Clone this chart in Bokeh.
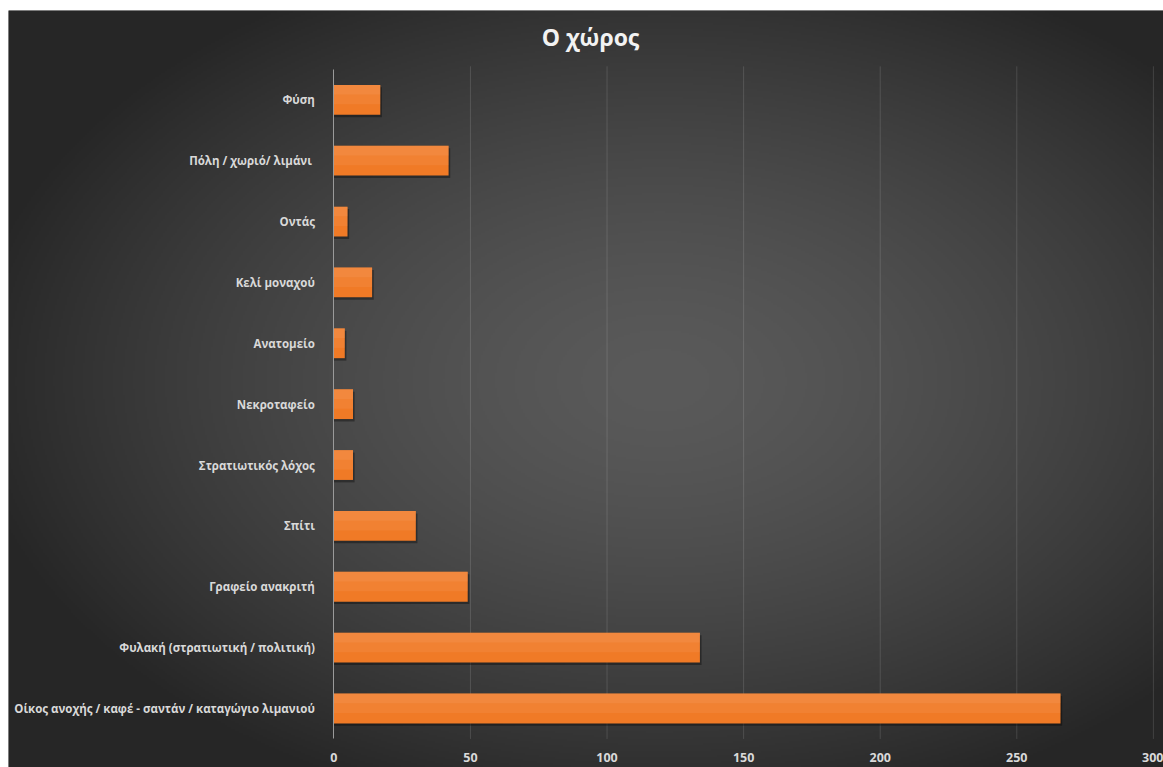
import numpy as np
from bokeh.plotting import figure
from bokeh.models import Range1d, FixedTicker, Label, Spacer
from bokeh.layouts import column, row
from bokeh.embed import file_html
from bokeh.resources import INLINE

# ---- data ----
title_text = "Ο χώρος"
categories = [
    "Φύση",
    "Πόλη / χωριό/ λιμάνι ",
    "Οντάς",
    "Κελί μοναχού",
    "Ανατομείο",
    "Νεκροταφείο",
    "Στρατιωτικός λόχος",
    "Σπίτι",
    "Γραφείο ανακριτή",
    "Φυλακή (στρατιωτική / πολιτική)",
    "Οίκος ανοχής / καφέ - σαντάν / καταγώγιο λιμανιού",
]
values = [17, 42, 5, 14, 4, 7, 7, 30, 49, 134, 266]
x_ticks = [0, 50, 100, 150, 200, 250, 300]

n = len(categories)
ypos = [n - 1 - k for k in range(n)]

W, H = 1155, 757
FONT = "Open Sans"
LABEL_COLOR = "#d9d9d9"

p = figure(
    width=W, height=H,
    x_range=Range1d(-119.1, 303.7),
    y_range=Range1d(-0.969, 11.467),
    output_backend="svg", toolbar_location=None,
    min_border=0, min_border_left=0, min_border_right=0,
    min_border_top=0, min_border_bottom=0,
)
p.outline_line_color = None
p.background_fill_color = "#383838"
p.border_fill_color = "#383838"
p.xgrid.visible = False
p.ygrid.visible = False

# radial background gradient (decoration)
h, w = H // 2 + 1, W // 2 + 1
jj = (np.arange(w) + 0.5) * W / w + 8
ii = (np.arange(h) + 0.5) * H / h + 10
PX, PY = np.meshgrid(jj, ii)
d = np.sqrt(((PX - 660) / 700.0) ** 2 + ((PY - 380) / 450.0) ** 2)
d = np.clip(d, 0, 1)
g = (38 + 52 * (1 - d ** 1.5)).astype(np.uint8)
g = g[::-1, :]
img = np.empty((h, w), dtype=np.uint32)
view = img.view(dtype=np.uint8).reshape((h, w, 4))
view[..., 0] = g
view[..., 1] = g
view[..., 2] = g
view[..., 3] = 255
x0, x1 = p.x_range.start, p.x_range.end
y0, y1 = p.y_range.start, p.y_range.end
p.image_rgba(image=[img], x=x0, y=y0, dw=x1 - x0, dh=y1 - y0)

# vertical gridlines
grid_x = x_ticks[1:]
p.segment(x0=grid_x, y0=[-0.5] * len(grid_x), x1=grid_x, y1=[10.55] * len(grid_x),
          line_color="#ffffff", line_alpha=0.13, line_width=1)

# bars: shadow, body, soft highlight
p.hbar(y=[y - 0.04 for y in ypos], left=0, right=[v + 0.6 for v in values], height=0.49,
       fill_color="#000000", fill_alpha=0.35, line_color=None)
p.hbar(y=ypos, left=0, right=values, height=0.49,
       fill_color="#f07a26", line_color=None)
p.hbar(y=[y + 0.085 for y in ypos], left=0, right=values, height=0.32,
       fill_color="#f8a26a", fill_alpha=0.18, line_color=None)
p.hbar(y=[y + 0.165 for y in ypos], left=0, right=values, height=0.16,
       fill_color="#f8a26a", fill_alpha=0.22, line_color=None)

# y axis (categories) at x = 0
ya = p.yaxis[0]
ya.fixed_location = 0
ya.bounds = (-0.5, 10.5)
ya.ticker = FixedTicker(ticks=ypos)
ya.major_label_overrides = {y: c for y, c in zip(ypos, categories)}
ya.axis_line_color = "#9a9a9a"
ya.axis_line_width = 1
ya.major_tick_line_color = None
ya.minor_tick_line_color = None
ya.major_label_standoff = 13
ya.major_label_text_font = FONT
ya.major_label_text_font_style = "bold"
ya.major_label_text_font_size = "11.5px"
ya.major_label_text_color = LABEL_COLOR

# x axis (values)
xa = p.xaxis[0]
xa.fixed_location = -0.5
xa.bounds = (0, 300)
xa.ticker = FixedTicker(ticks=x_ticks)
xa.axis_line_color = None
xa.major_tick_line_color = None
xa.minor_tick_line_color = None
xa.major_label_standoff = 8
xa.major_label_text_font = FONT
xa.major_label_text_font_style = "bold"
xa.major_label_text_font_size = "12.5px"
xa.major_label_text_color = LABEL_COLOR

title = Label(x=582, y=H - 26, x_units="screen", y_units="screen",
              text=title_text, text_align="center", text_baseline="middle",
              text_font=FONT, text_font_style="bold", text_font_size="23px",
              text_color="#f2f2f2")
p.add_layout(title)

layout = column(Spacer(height=10), row(Spacer(width=8), p))
open("out.html", "w").write(file_html(layout, INLINE))
